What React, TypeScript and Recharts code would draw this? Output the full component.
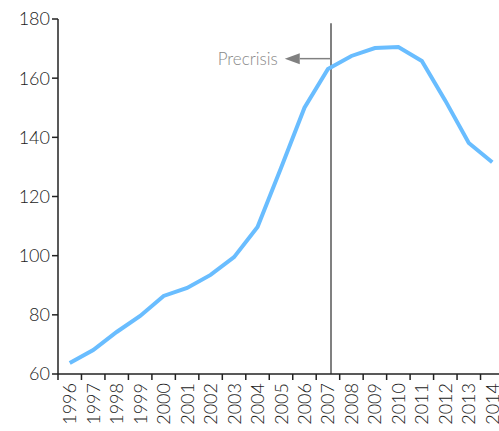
import React from "react";
import { LineChart, Line, XAxis, YAxis, ReferenceLine } from "recharts";

const years = [
  1996, 1997, 1998, 1999, 2000, 2001, 2002, 2003, 2004, 2005, 2006, 2007, 2008, 2009, 2010, 2011, 2012,
  2013, 2014,
];
const values = [
  63.7, 68.1, 74.2, 79.6, 86.4, 89.1, 93.5, 99.5, 109.7, 129.6, 150.0, 163.1, 167.5, 170.2, 170.5, 165.8,
  152.4, 138.1, 131.6,
];
const yTicks = [60, 80, 100, 120, 140, 160, 180];

const crisisYear = 2007.13;
const arrowLevel = 166.6;
const arrowEnd = 2005.8;
const annotationText = "Precrisis";

const data = years.map((year, i) => ({ year, value: values[i] }));

const FONT = "Lato, 'DejaVu Sans', sans-serif";
const CHART_W = 510;
const Y_AXIS_W = 58;
const MARGIN_RIGHT = 6;
const HALF_BAND = (CHART_W - Y_AXIS_W - MARGIN_RIGHT) / years.length / 2;

function YearTick(props: any) {
  const { x, y, payload } = props;
  return (
    <g>
      <line x1={x - HALF_BAND} x2={x - HALF_BAND} y1={y - 8} y2={y - 2} stroke="#222" strokeWidth={1.5} />
      <text
        x={0}
        y={0}
        transform={`translate(${x + 6.5},${y + 1}) rotate(-90)`}
        textAnchor="end"
        fontSize={18}
        fontWeight={300}
        fontFamily={FONT}
        fill="#222"
      >
        {payload.value}
      </text>
    </g>
  );
}

function ArrowLabel(props: any) {
  const { viewBox } = props;
  if (!viewBox) return null;
  const tipX = viewBox.x - 15;
  const baseX = viewBox.x;
  const y = viewBox.y;
  return (
    <g>
      <polygon points={`${tipX},${y} ${baseX},${y - 5.5} ${baseX},${y + 5.5}`} fill="#808080" />
      <text
        x={tipX - 7}
        y={y}
        dy="0.35em"
        textAnchor="end"
        fontSize={17}
        fontWeight={300}
        fontFamily={FONT}
        fill="#888"
      >
        {annotationText}
      </text>
    </g>
  );
}

export default function App() {
  return (
    <div style={{ position: "fixed", top: 0, left: 0, width: 499, height: 431, overflow: "hidden", background: "#fff" }}>
      <LineChart width={CHART_W} height={431} data={data} margin={{ top: 19, right: MARGIN_RIGHT, left: 0, bottom: 0 }}>
        <XAxis
          dataKey="year"
          type="number"
          domain={[1995.5, 2014.5]}
          ticks={years}
          interval={0}
          height={57}
          tickLine={false}
          axisLine={{ stroke: "#222", strokeWidth: 1.5 }}
          tick={<YearTick />}
        />
        <YAxis
          type="number"
          domain={[60, 180]}
          ticks={yTicks}
          width={Y_AXIS_W}
          tickSize={6}
          tickLine={{ stroke: "#222", strokeWidth: 1.5 }}
          axisLine={{ stroke: "#222", strokeWidth: 1.5 }}
          tick={{ fontSize: 18, fontWeight: 300, fontFamily: FONT, fill: "#222" }}
        />
        <ReferenceLine
          segment={[
            { x: crisisYear, y: 60 },
            { x: crisisYear, y: 178.6 },
          ]}
          stroke="#808080"
          strokeWidth={2}
          ifOverflow="extendDomain"
        />
        <ReferenceLine
          segment={[
            { x: arrowEnd, y: arrowLevel },
            { x: crisisYear, y: arrowLevel },
          ]}
          stroke="#808080"
          strokeWidth={1.5}
          label={<ArrowLabel />}
        />
        <Line
          type="linear"
          dataKey="value"
          stroke="#69bdff"
          strokeWidth={4}
          dot={false}
          isAnimationActive={false}
        />
      </LineChart>
    </div>
  );
}
